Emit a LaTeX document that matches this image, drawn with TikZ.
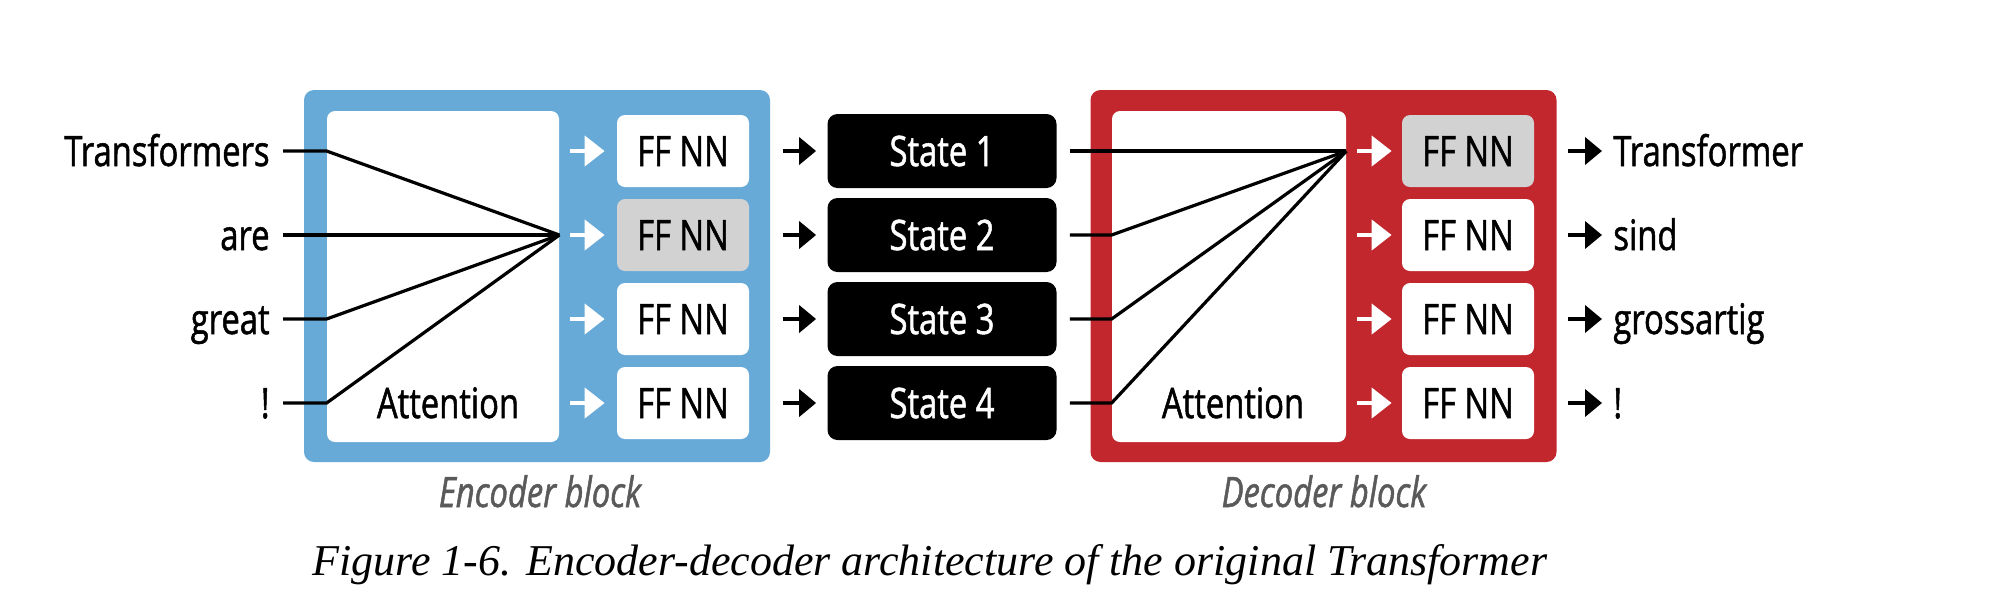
\documentclass[tikz,border=0pt]{standalone}
\usepackage{fontspec}
\usetikzlibrary{arrows.meta}
\newfontfamily\diagfont[FakeStretch=0.78, FakeBold=1.2]{Open Sans}
\newfontfamily\capfont{Liberation Serif}
\definecolor{encblue}{HTML}{67AAD7}
\definecolor{decred}{HTML}{C1272D}
\definecolor{ffgray}{HTML}{D2D2D2}
\definecolor{blocktext}{HTML}{5A5A5A}

\tikzset{
  word/.style={font=\diagfont\fontsize{21}{25}\selectfont, inner sep=0pt, text height=15pt, text depth=0pt},
  block/.style={rounded corners=5pt, minimum width=233pt, minimum height=186pt},
  attbox/.style={fill=white, rounded corners=4pt, minimum width=116pt, minimum height=165.5pt},
  ffnn/.style={word, fill=white, rounded corners=4pt, minimum width=66pt, minimum height=36pt},
  state/.style={word, fill=black, text=white, rounded corners=5pt, minimum width=114.5pt, minimum height=37pt},
  blocklabel/.style={word, font=\diagfont\itshape\fontsize{21}{25}\selectfont, text=blocktext, anchor=base},
  wire/.style={line width=1.6pt},
  warrow/.style={white, line width=2.2pt, -{Triangle[length=10pt,width=15pt]}},
  barrow/.style={black, line width=2pt, -{Triangle[length=8.5pt,width=13.5pt]}},
}

\begin{document}
\begin{tikzpicture}[x=0.5pt, y=-0.5pt]
    \fill[white] (0,0) rectangle (1990,602);
    \useasboundingbox (0,0) rectangle (1990,602);

    % encoder
    \node (encblk) [block, fill=encblue] at (537,276)   {};
    \node (attE)   [attbox]              at (443,276.5) {};
    \node (attEtxt) [word]               at (448,403)   {Attention};
    \node (ffe1) [ffnn]              at (683,151) {FF NN};
    \node (ffe2) [ffnn, fill=ffgray] at (683,235) {FF NN};
    \node (ffe3) [ffnn]              at (683,319) {FF NN};
    \node (ffe4) [ffnn]              at (683,403) {FF NN};

    % inputs
    \node (inT) [word, anchor=east] at (270,151) {Transformers};
    \node (inA) [word, anchor=east] at (270,235) {are};
    \node (inG) [word, anchor=east] at (270,319) {great};
    \node (inX) [word, anchor=east] at (270,403) {!};

    \coordinate (eT) at (attE.west |- inT);
    \coordinate (eA) at (attE.west |- inA);
    \coordinate (eG) at (attE.west |- inG);
    \coordinate (eX) at (attE.west |- inX);
    \coordinate (econv) at (attE.east |- ffe2);
    \draw[wire, shorten <=6.5pt] (inT.east) -- (eT) -- (econv);
    \draw[wire, shorten <=6.5pt] (inA.east) -- (econv);
    \draw[wire, shorten <=6.5pt] (inG.east) -- (eG) -- (econv);
    \draw[wire, shorten <=6.5pt] (inX.east) -- (eX) -- (econv);

    \foreach \i in {1,...,4} {
        \coordinate (eo\i) at (attE.east |- ffe\i);
        \draw[warrow, shorten <=5.5pt, shorten >=6pt] (eo\i) -- (ffe\i.west);
    }

    % states
    \node (st1) [state] at (942,151) {State 1};
    \node (st2) [state] at (942,235) {State 2};
    \node (st3) [state] at (942,319) {State 3};
    \node (st4) [state] at (942,403) {State 4};
    \foreach \i in {1,...,4}
        \draw[barrow, shorten <=17pt, shorten >=5.5pt] (ffe\i.east) -- (st\i.west);

    % decoder
    \node (decblk) [block, fill=decred] at (1323.5,276) {};
    \node (attD)   [attbox, minimum width=117pt] at (1229,276.5) {};
    \node (attDtxt) [word]              at (1233,403)   {Attention};
    \node (ffd1) [ffnn, fill=ffgray] at (1468,151) {FF NN};
    \node (ffd2) [ffnn]              at (1468,235) {FF NN};
    \node (ffd3) [ffnn]              at (1468,319) {FF NN};
    \node (ffd4) [ffnn]              at (1468,403) {FF NN};

    \coordinate (d2) at (attD.west |- st2);
    \coordinate (d3) at (attD.west |- st3);
    \coordinate (d4) at (attD.west |- st4);
    \coordinate (dconv) at (attD.east |- ffd1);
    \draw[wire, shorten <=6.5pt] (st1.east) -- (dconv);
    \draw[wire, shorten <=6.5pt] (st2.east) -- (d2) -- (dconv);
    \draw[wire, shorten <=6.5pt] (st3.east) -- (d3) -- (dconv);
    \draw[wire, shorten <=6.5pt] (st4.east) -- (d4) -- (dconv);

    \foreach \i in {1,...,4} {
        \coordinate (do\i) at (attD.east |- ffd\i);
        \draw[warrow, shorten <=5.5pt, shorten >=5pt] (do\i) -- (ffd\i.west);
    }

    % outputs
    \node (outT) [word, anchor=west] at (1613,151) {Transformer};
    \node (outS) [word, anchor=west] at (1613,235) {sind};
    \node (outG) [word, anchor=west] at (1613,319) {grossartig};
    \node (outX) [word, anchor=west] at (1613,403) {!};
    \draw[barrow, shorten <=17pt, shorten >=5.5pt] (ffd1.east) -- (outT.west);
    \draw[barrow, shorten <=17pt, shorten >=5.5pt] (ffd2.east) -- (outS.west);
    \draw[barrow, shorten <=17pt, shorten >=5.5pt] (ffd3.east) -- (outG.west);
    \draw[barrow, shorten <=17pt, shorten >=5.5pt] (ffd4.east) -- (outX.west);

    % labels
    \node (enclbl) [blocklabel] at (540,507)  {Encoder block};
    \node (declbl) [blocklabel] at (1324,507) {Decoder block};
    \node (caption) [font=\capfont\itshape\fontsize{22}{26}\selectfont, inner sep=0pt, anchor=base]
        at (930,575) {Figure 1-6. Encoder-decoder architecture of the original Transformer};
\end{tikzpicture}
\end{document}
